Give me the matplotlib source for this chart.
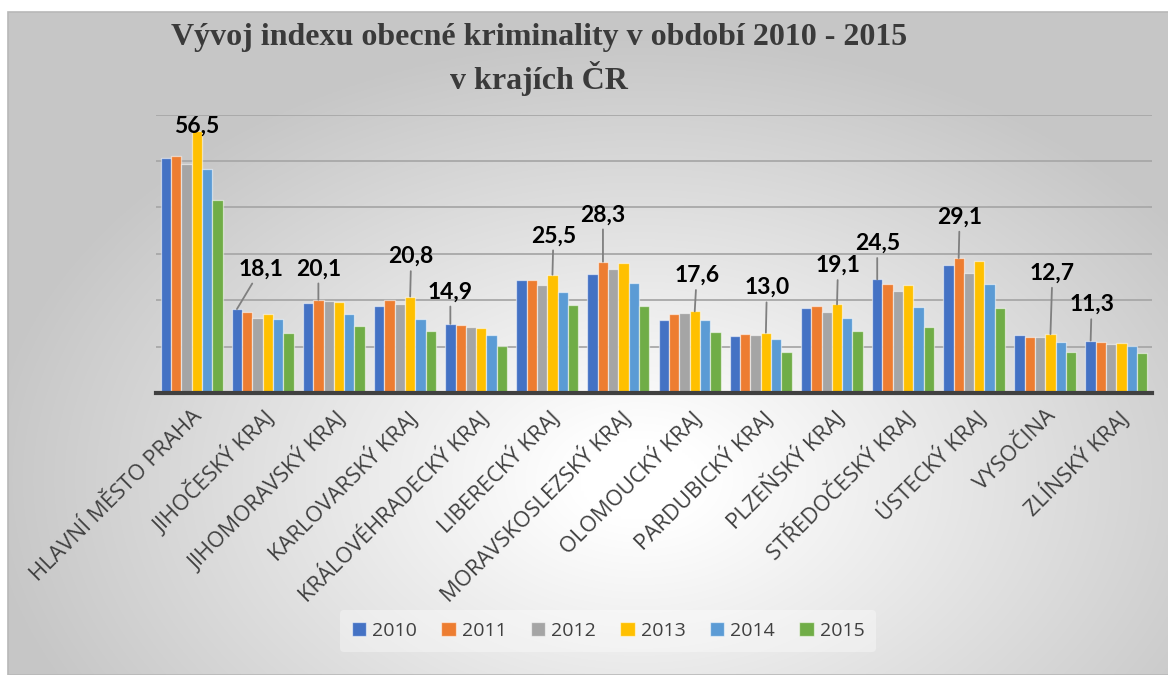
import numpy as np
import matplotlib.pyplot as plt
from matplotlib.patches import Rectangle

# kraje
regions = ["HLAVNÍ MĚSTO PRAHA", "JIHOČESKÝ KRAJ", "JIHOMORAVSKÝ KRAJ",
           "KARLOVARSKÝ KRAJ", "KRÁLOVÉHRADECKÝ KRAJ", "LIBERECKÝ KRAJ",
           "MORAVSKOSLEZSKÝ KRAJ", "OLOMOUCKÝ KRAJ", "PARDUBICKÝ KRAJ",
           "PLZEŇSKÝ KRAJ", "STŘEDOČESKÝ KRAJ", "ÚSTECKÝ KRAJ",
           "VYSOČINA", "ZLÍNSKÝ KRAJ"]
years = ["2010", "2011", "2012", "2013", "2014", "2015"]

# index obecne kriminality (odhad z grafu)
v2010 = [50.7, 18.1, 19.5, 18.8, 14.9, 24.3, 25.6, 15.7, 12.3, 18.3, 24.5, 27.7, 12.6, 11.3]
v2011 = [51.1, 17.4, 20.1, 20.1, 14.6, 24.3, 28.3, 17.0, 12.7, 18.8, 23.4, 29.1, 12.1, 11.0]
v2012 = [49.3, 16.1, 19.8, 19.2, 14.2, 23.3, 26.8, 17.2, 12.5, 17.5, 21.9, 25.8, 12.1, 10.6]
v2013 = [56.5, 17.0, 19.7, 20.8, 14.0, 25.5, 28.0, 17.6, 13.0, 19.1, 23.3, 28.5, 12.7, 10.8]
v2014 = [48.3, 15.9, 17.0, 16.0, 12.6, 21.8, 23.7, 15.7, 11.7, 16.1, 18.5, 23.4, 11.0, 10.2]
v2015 = [41.6, 13.0, 14.5, 13.4, 10.2, 19.0, 18.8, 13.1, 8.9, 13.4, 14.2, 18.3, 8.8, 8.6]
series = [v2010, v2011, v2012, v2013, v2014, v2015]

# popisek: (kraj, rok) a posun textu v pixelech (dx, dy)
label_bars = [(0, 3), (1, 0), (2, 1), (3, 3), (4, 0), (5, 3), (6, 1),
              (7, 3), (8, 3), (9, 3), (10, 0), (11, 1), (12, 3), (13, 0)]
label_offsets = [(0, 5), (24, 40), (0, 31), (1, 40), (0, 32), (1, 39), (0, 47),
                 (2, 36), (1, 45), (1, 39), (0, 36), (1, 41), (2, 61), (1, 36)]

colors = ["#4472C4", "#ED7D31", "#A5A5A5", "#FFC000", "#5B9BD5", "#70AD47"]

W, H = 1168, 675
fig = plt.figure(figsize=(W / 100, H / 100), dpi=100)
fig.patch.set_facecolor("white")

# pozadi s radialnim prechodem
bg = fig.add_axes([8 / W, 0, 1 - 8 / W, 1 - 12 / H])
bg.set_axis_off()
gx, gy = np.meshgrid(np.linspace(8, W, 400), np.linspace(12, H, 240))
r = np.sqrt(((gx - 640) / 620) ** 2 + ((gy - 480) / 420) ** 2)
shade = 1.0 - 0.22 * np.clip((r - 0.1) / 0.95, 0, 1)
bg.imshow(np.dstack([shade] * 3), extent=[0, 1, 0, 1], aspect="auto",
          origin="upper", interpolation="bilinear")
bg.set_xlim(0, 1)
bg.set_ylim(0, 1)
fig.add_artist(Rectangle((8 / W, 0), 1, 1 - 12 / H, transform=fig.transFigure,
                         fill=False, edgecolor="#b8b8b8", lw=1.2))

ax = fig.add_axes([156 / W, 1 - 393 / H, (1152 - 156) / W, (393 - 114.7) / H])
ax.patch.set_alpha(0)

x = np.arange(len(regions))
bw = 0.145
for j, vals in enumerate(series):
    ax.bar(x + (j - 2.5) * bw, vals, width=bw, color=colors[j],
           edgecolor=(1, 1, 1, 0.55), linewidth=0.9, label=years[j], zorder=3)

ax.set_xlim(-0.5, len(regions) - 0.5)
ax.set_ylim(0, 60)
ax.set_yticks(np.arange(0, 61, 10))
ax.yaxis.grid(True, color="#a8a8a8", lw=1.3, zorder=0)
ax.set_yticklabels([])
ax.tick_params(axis="y", length=0)
for s in ["top", "right", "left"]:
    ax.spines[s].set_visible(False)
ax.spines["bottom"].set_color("#404040")
ax.spines["bottom"].set_linewidth(3)
ax.spines["bottom"].set_zorder(5)

ax.set_xticks(x)
ax.set_xticklabels(regions, rotation=45, ha="right", rotation_mode="anchor",
                   fontsize=15.8, family="Open Sans", color="#404040")
ax.tick_params(axis="x", length=0, pad=9)

for (i, j), (dx, dy) in zip(label_bars, label_offsets):
    val = series[j][i]
    txt = f"{val:.1f}".replace(".", ",")
    props = None
    if dy > 10:
        props = dict(arrowstyle="-", color="#7f7f7f", lw=1.3, shrinkA=1, shrinkB=0)
    ax.annotate(txt, xy=(x[i] + (j - 2.5) * bw, val),
                xytext=(dx * 0.72, dy * 0.72), textcoords="offset points",
                ha="center", va="center", fontsize=16.5, fontweight="bold",
                family="Lato", color="black", arrowprops=props, zorder=6,
                annotation_clip=False)

leg = fig.legend(loc="center", bbox_to_anchor=(608 / W, 1 - 631 / H), ncol=6,
                 frameon=True, prop={"family": "Open Sans", "size": 14},
                 handlelength=0.75, handleheight=0.75, handletextpad=0.3,
                 columnspacing=1.25, borderpad=0.6)
leg.get_frame().set_facecolor("white")
leg.get_frame().set_alpha(0.35)
leg.get_frame().set_edgecolor("none")
for t in leg.get_texts():
    t.set_color("#404040")

fig.text(539 / W, 1 - 38 / H, "Vývoj indexu obecné kriminality v období 2010 - 2015",
         ha="center", va="center", fontsize=23, fontweight="bold",
         family="Liberation Serif", color="#3a3a3a")
fig.text(539 / W, 1 - 78 / H, "v krajích ČR", ha="center", va="center",
         fontsize=23, fontweight="bold", family="Liberation Serif", color="#3a3a3a")

fig.savefig("out.png", dpi=100)
